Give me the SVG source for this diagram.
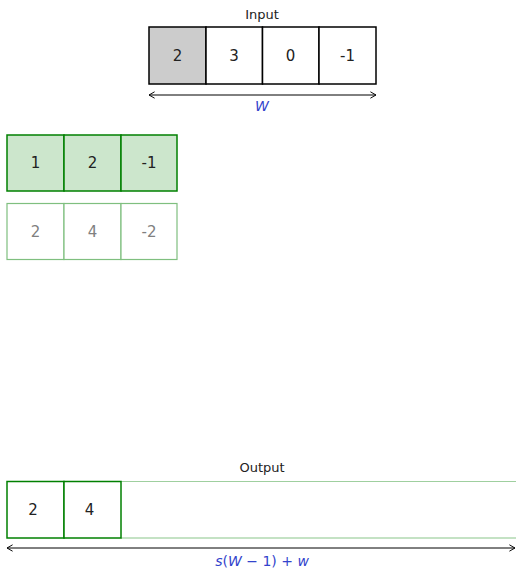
<svg xmlns="http://www.w3.org/2000/svg" width="516" height="570" viewBox="0 0 516 570">
<style>
.lbl{font-family:"DejaVu Sans","Liberation Sans",sans-serif;font-size:13px;fill:#222;text-anchor:middle}
.num{font-family:"DejaVu Sans","Liberation Sans",sans-serif;font-size:15px;fill:#222;text-anchor:middle;dominant-baseline:central}
.numg{font-family:"DejaVu Sans","Liberation Sans",sans-serif;font-size:15px;fill:#808080;text-anchor:middle;dominant-baseline:central}
.math{font-family:"DejaVu Sans","Liberation Sans",sans-serif;font-size:14px;fill:#3344cc;text-anchor:middle}
.cell{fill:#fff;stroke:#000;stroke-width:1.5}
.kcell{fill:#cce6cc;stroke:#008000;stroke-width:1.5}
.rcell{fill:#fff;stroke:#7fbf7f;stroke-width:1.2}
.ocell{fill:#fff;stroke:#008000;stroke-width:1.5}
.dim{stroke:#000;stroke-width:1;fill:none}
</style>
<defs>
<marker id="ah" viewBox="0 0 10 10" refX="9" refY="5" markerWidth="8" markerHeight="8" orient="auto-start-reverse" markerUnits="userSpaceOnUse">
<polyline points="2,1 9,5 2,9" fill="none" stroke="#000" stroke-width="1.2"/>
</marker>
</defs>
<g id="input">
<text class="lbl" x="262" y="19">Input</text>
<rect class="cell" x="149" y="27" width="57" height="57" style="fill:#cccccc"/>
<rect class="cell" x="206" y="27" width="56.5" height="57"/>
<rect class="cell" x="262.5" y="27" width="56.5" height="57"/>
<rect class="cell" x="319" y="27" width="57" height="57"/>
<text class="num" x="177.5" y="56">2</text>
<text class="num" x="234" y="56">3</text>
<text class="num" x="290.5" y="56">0</text>
<text class="num" x="347.5" y="56">-1</text>
</g>
<g id="kernel">
<rect class="kcell" x="7" y="135" width="57" height="56"/>
<rect class="kcell" x="64" y="135" width="57" height="56"/>
<rect class="kcell" x="121" y="135" width="56" height="56"/>
<text class="num" x="35.5" y="163">1</text>
<text class="num" x="92.5" y="163">2</text>
<text class="num" x="149" y="163">-1</text>
</g>
<g id="products">
<rect class="rcell" x="7" y="203.5" width="57" height="56"/>
<rect class="rcell" x="64" y="203.5" width="57" height="56"/>
<rect class="rcell" x="121" y="203.5" width="56" height="56"/>
<text class="numg" x="35.5" y="231.5">2</text>
<text class="numg" x="92.5" y="231.5">4</text>
<text class="numg" x="149" y="231.5">-2</text>
</g>
<g id="output">
<text class="lbl" x="262" y="472">Output</text>
<line x1="121" y1="481.5" x2="516" y2="481.5" stroke="#9fcf9f" stroke-width="1"/>
<line x1="121" y1="538" x2="516" y2="538" stroke="#c4e2c4" stroke-width="2"/>
<rect class="ocell" x="7" y="481.5" width="57" height="56.5"/>
<rect class="ocell" x="64" y="481.5" width="57" height="56.5"/>
<text class="num" x="33" y="509.5">2</text>
<text class="num" x="89.5" y="509.5">4</text>
</g>
<g id="connectors">
<line class="dim" x1="149" y1="95" x2="376" y2="95" marker-start="url(#ah)" marker-end="url(#ah)"/>
<text class="math" x="262" y="111" font-style="italic">W</text>
<line class="dim" x1="7" y1="548" x2="515" y2="548" marker-start="url(#ah)" marker-end="url(#ah)"/>
<text class="math" x="262" y="566"><tspan font-style="italic">s</tspan>(<tspan font-style="italic">W</tspan> − 1) + <tspan font-style="italic">w</tspan></text>
</g>
</svg>
